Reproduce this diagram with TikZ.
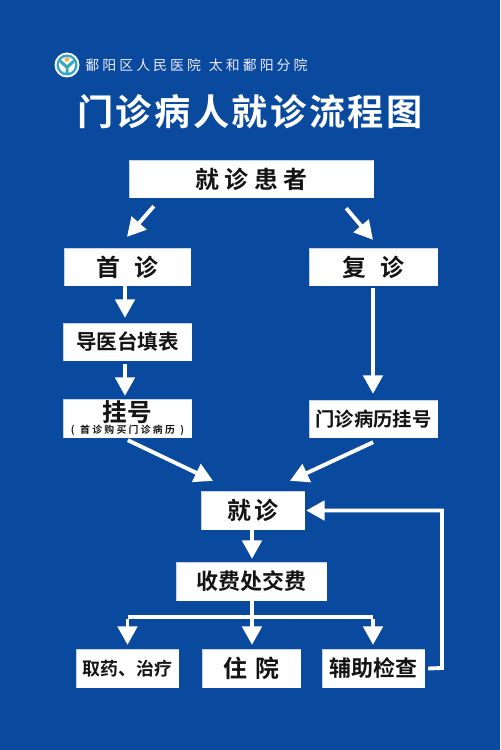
\documentclass[tikz,border=0pt]{standalone}
\usepackage{fontspec}
\setmainfont{Noto Sans CJK SC}[BoldFont={Noto Sans CJK SC Bold}]
\usetikzlibrary{arrows.meta,calc}
\definecolor{bgblue}{HTML}{0A4A9E}
\definecolor{logoblue}{HTML}{35A3CF}
\definecolor{logogreen}{HTML}{3FA7B5}
\definecolor{logoyel}{HTML}{E9B84A}
\tikzset{
  x=0.02cm,y=-0.02cm,
  box/.style={preaction={draw=bgblue!55!white,line width=1.5pt},preaction={draw=bgblue!25!white,line width=0.8pt},fill=white,draw=white,line width=0.2pt,inner sep=0pt,text=black!92,font=\bfseries\fontsize{13.6pt}{14pt}\selectfont,align=center},
  arr/.style={draw=white,line width=2.2pt,-{Triangle[width=11pt,length=10.5pt]}},
  line/.style={draw=white,line width=2.2pt},
}
\newcommand{\bx}[6]{\node[box,minimum width=#4*0.02cm-#2*0.02cm,minimum height=#5*0.02cm-#3*0.02cm] (#1) at ({(#2+#4)/2},{(#3+#5)/2}) {#6};}
\newcommand{\g}{\hspace{1.75pt}}
\begin{document}
\begin{tikzpicture}
\useasboundingbox (0,0) rectangle (500,750);
\fill[bgblue] (0,0) rectangle (500,750);
% logo
\node[circle,fill=white,minimum size=25*0.02cm,inner sep=0pt] (logo) at (67,65) {};
\fill[logoblue] (logo.center) circle[radius=10.5];
\fill[white] (logo.center) circle[radius=8];
\fill[logogreen] (60,59) -- (67,65) -- (74,59) -- (74,63) -- (68.5,68) -- (68.5,73) -- (65.5,73) -- (65.5,68) -- (60,63) -- cycle;
\fill[logoyel] (67,59.5) circle[radius=2.3];
% header
\node[text=white!92!blue,font=\fontsize{7.9pt}{9pt}\selectfont,anchor=center] (hosp) at (196.5,65) {鄱\g 阳\g 区\g 人\g 民\g 医\g 院\hspace{4.5pt}太\g 和\g 鄱\g 阳\g 分\g 院};
% title
\node[text=white,font=\bfseries\fontsize{20.6pt}{23pt}\selectfont] (title) at (250,112) {门\hspace{1.4pt}诊\hspace{1.4pt}病\hspace{1.4pt}人\hspace{1.4pt}就\hspace{1.4pt}诊\hspace{1.4pt}流\hspace{1.4pt}程\hspace{1.4pt}图};
% boxes
\bx{patient}{130}{161}{373}{197}{就\hspace{3pt}诊\hspace{3pt}患\hspace{3pt}者}
\bx{first}{65}{249}{190}{285}{首\hspace{8pt}诊}
\bx{again}{310}{249}{437}{285}{复\hspace{8pt}诊}
\bx{guide}{64}{324}{191}{360}{\fontsize{11.7pt}{12pt}\selectfont 导医台填表}
\node[box,minimum width=127*0.02cm,minimum height=37*0.02cm] (reg) at (127.5,418.5) {};
\node[font=\bfseries\fontsize{14pt}{15pt}\selectfont,text=black!92] (regt) at (127.5,412) {挂号};
\node[font=\bfseries\fontsize{5.6pt}{6pt}\selectfont,text=black!92] (regs) at (127.5,430) {(\hspace{3.2pt}首\hspace{1.3pt}诊\hspace{1.3pt}购\hspace{1.3pt}买\hspace{1.3pt}门\hspace{1.3pt}诊\hspace{1.3pt}病\hspace{1.3pt}历\hspace{3.2pt})};
\bx{record}{310}{401}{437}{437}{\fontsize{11pt}{12pt}\selectfont 门诊病历挂号}
\bx{visit}{202}{492}{304}{529}{就\hspace{1.5pt}诊}
\bx{pay}{177}{563}{326}{600}{\fontsize{12.5pt}{13pt}\selectfont 收费处交费}
\bx{drug}{77}{650}{178}{687}{\fontsize{10.2pt}{11pt}\selectfont 取药、治疗}
\bx{ward}{203}{650}{300}{687}{住\hspace{5pt}院}
\bx{aux}{323}{650}{424}{687}{\fontsize{12.5pt}{13pt}\selectfont 辅助检查}
% connectors
\draw[arr] ([shift={(24,9)}]patient.south west) -- ([shift={(-0.5,-12)}]first.north);
\draw[arr] ([shift={(-27,11)}]patient.south east) -- ([shift={(-0.5,-9)}]again.north);
\draw[arr] (first.south -| 125,0) -- ([yshift=6*0.02cm]guide.north -| 125,0);
\draw[arr] ([yshift=-4*0.02cm]guide.south -| 125,0) -- ([yshift=4*0.02cm]reg.north -| 125,0);
\draw[arr] ([yshift=-3*0.02cm]again.south -| 373,0) -- ([yshift=7*0.02cm]record.north -| 373,0);
\draw[arr] ([shift={(64,3)}]reg.south west) -- ([shift={(-40,-11)}]visit.north);
\draw[arr] ([shift={(-64,5)}]record.south east) -- ([shift={(37,-11)}]visit.north);
\draw[arr] (visit.south -| 252,0) -- ([yshift=4*0.02cm]pay.north -| 252,0);
\coordinate (bus) at (252,617);
\coordinate (busl) at (127.5,617);
\coordinate (busr) at (373,617);
\draw[line] (pay.south -| bus) -- (bus);
\draw[line,line join=round] (busl) -- (busr);
\draw[arr] (bus) -- ([yshift=5*0.02cm]ward.north -| bus);
\draw[arr] ([yshift=-1.1pt]busl) -- ([yshift=5*0.02cm]drug.north -| busl);
\draw[arr] ([yshift=-1.1pt]busr) -- ([yshift=5*0.02cm]aux.north -| busr);
\coordinate (fb) at (442,668);
\draw[arr] ([xshift=4*0.02cm]aux.east) -- (fb) |- ([xshift=2*0.02cm]visit.east);
\end{tikzpicture}
\end{document}
